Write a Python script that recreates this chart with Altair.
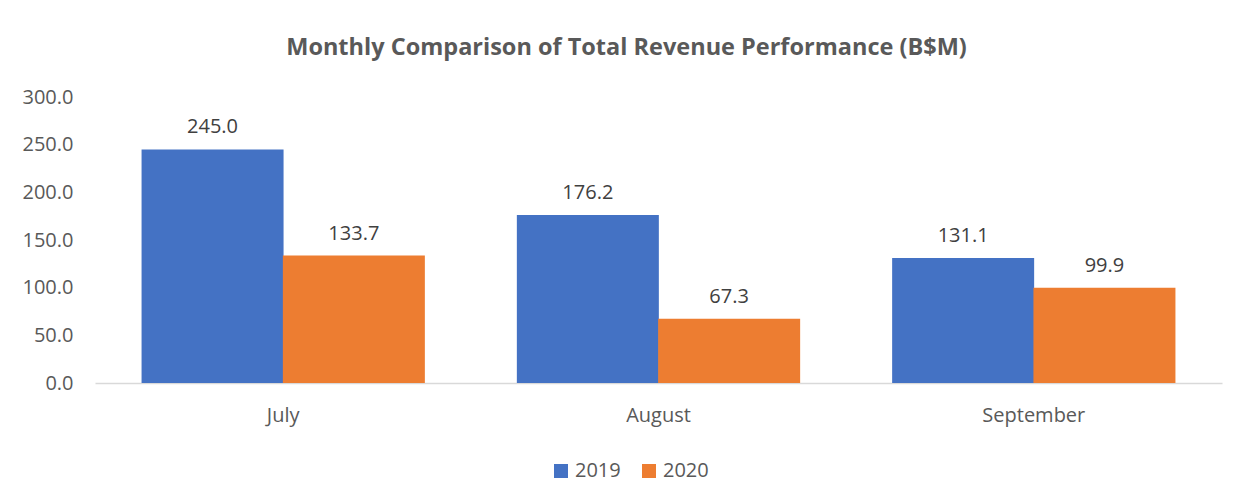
import altair as alt
import pandas as pd

months = ["July", "August", "September"]
years = ["2019", "2020"]
rev_2019 = [245.0, 176.2, 131.1]
rev_2020 = [133.7, 67.3, 99.9]
colors = ["#4472C4", "#ED7D31"]

rows = []
for m, a, b in zip(months, rev_2019, rev_2020):
    rows.append({"month": m, "year": "2019", "value": a})
    rows.append({"month": m, "year": "2020", "value": b})
df = pd.DataFrame(rows)

FONT = "Open Sans"
GREY = "#595959"

x_enc = alt.X("month:N", sort=months, title=None,
              scale=alt.Scale(paddingInner=0.247, paddingOuter=0.125),
              axis=alt.Axis(labelAngle=0, ticks=False, domainColor="#D9D9D9",
                            domainWidth=1.5, labelPadding=22, labelFontSize=20,
                            labelColor=GREY, labelFont=FONT, grid=False))
xoff = alt.XOffset("year:N", sort=years, scale=alt.Scale(paddingInner=0, paddingOuter=0))
y_enc = alt.Y("value:Q", title=None,
              scale=alt.Scale(domain=[0, 300], nice=False),
              axis=alt.Axis(values=[0, 50, 100, 150, 200, 250, 300], format=".1f",
                            ticks=False, domain=False, grid=False, labelPadding=22,
                            labelFontSize=20, labelColor=GREY, labelFont=FONT))

bars = alt.Chart(df).mark_bar(size=142).encode(
    x=x_enc, xOffset=xoff, y=y_enc,
    color=alt.Color("year:N", sort=years,
                    scale=alt.Scale(domain=years, range=colors),
                    legend=alt.Legend(title=None, orient="none", direction="horizontal",
                                      legendX=456, legendY=364, symbolType="square",
                                      symbolSize=196, symbolStrokeWidth=0, labelFontSize=20,
                                      labelColor=GREY, labelFont=FONT, columnPadding=18,
                                      labelOffset=4, padding=0)),
)

labels = alt.Chart(df).mark_text(dy=-16, baseline="alphabetic", fontSize=20,
                                 font=FONT, color="#404040").encode(
    x=alt.X("month:N", sort=months), xOffset=alt.XOffset("year:N", sort=years),
    y="value:Q", text=alt.Text("value:Q", format=".1f"),
)

chart = alt.layer(bars, labels).properties(
    width=1127, height=286,
    autosize=alt.AutoSizeParams(type="none"),
    padding={"left": 87, "top": 89, "right": 10, "bottom": 105},
    title=alt.TitleParams("Monthly Comparison of Total Revenue Performance (B$M)",
                          font=FONT, fontSize=23.5, fontWeight="bold", color=GREY,
                          anchor="middle", dx=-32, offset=28),
).configure_view(stroke=None)

chart.save("out.html", embed_options={"renderer": "svg", "actions": False})
